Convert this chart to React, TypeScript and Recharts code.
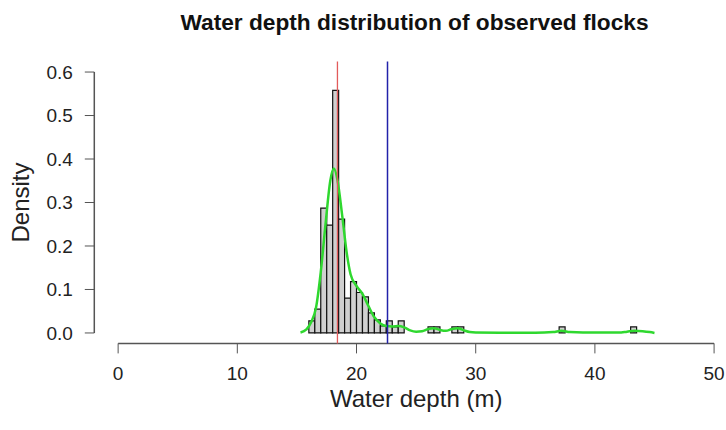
import React from 'react';
import { ComposedChart, Line, XAxis, YAxis, ReferenceArea, ReferenceLine, Label } from 'recharts';

// histogram bins (left edge, 0.5 m wide) and their densities
const binStarts = [16.0, 16.5, 17.0, 17.5, 18.0, 18.5, 19.0, 19.5, 20.0, 20.5, 21.0, 21.5, 22.0, 22.5, 23.0, 23.5, 26.0, 26.5, 28.0, 28.5, 37.0, 43.0];
const binDensity = [0.028, 0.055, 0.287, 0.248, 0.558, 0.262, 0.08, 0.118, 0.093, 0.083, 0.046, 0.03, 0.016, 0.028, 0.014, 0.028, 0.014, 0.014, 0.014, 0.014, 0.014, 0.014];
const binWidth = 0.5;

// kernel density curve
const curveDepth = [15.3, 15.8, 16.2, 16.6, 17.0, 17.4, 17.8, 18.1, 18.4, 18.8, 19.2, 19.5, 20.0, 20.5, 21.0, 21.5, 22.0, 22.5, 23.0, 23.5, 24.0, 24.5, 25.0, 25.5, 26.0, 26.5, 27.0, 27.5, 28.0, 28.5, 29.0, 29.5, 30.0, 32.0, 35.0, 36.5, 37.2, 37.9, 39.0, 42.0, 42.7, 43.3, 44.0, 44.6, 45.0];
const curveDensity = [0.001, 0.008, 0.025, 0.058, 0.14, 0.25, 0.35, 0.378, 0.352, 0.27, 0.18, 0.135, 0.108, 0.09, 0.062, 0.036, 0.022, 0.016, 0.015, 0.016, 0.013, 0.006, 0.003, 0.004, 0.009, 0.011, 0.007, 0.005, 0.009, 0.011, 0.006, 0.002, 0.001, 0.0005, 0.0005, 0.002, 0.005, 0.002, 0.001, 0.001, 0.003, 0.005, 0.004, 0.002, 0.0];

const xTicks = [0, 10, 20, 30, 40, 50];
const yTicks = [0, 0.1, 0.2, 0.3, 0.4, 0.5, 0.6];

const medianDepth = 18.4;
const meanDepth = 22.6;

const curveData = curveDepth.map((x, i) => ({ x, y: curveDensity[i] }));

const FONT = '"Liberation Sans", Arial, sans-serif';
const AXIS = '#555';

export default function App() {
  return (
    <div style={{ position: 'absolute', left: 0, top: 0, width: 726, height: 430, background: '#fff', fontFamily: FONT }}>
      <ComposedChart width={726} height={430} data={curveData} margin={{ top: 61.6, right: 0, bottom: 0, left: 0 }}>
        <XAxis
          dataKey="x"
          type="number"
          domain={[-2, 51]}
          allowDataOverflow
          ticks={xTicks}
          axisLine={false}
          tickLine={{ stroke: AXIS }}
          tickSize={10}
          tickMargin={13}
          height={86.6}
          tick={{ fontSize: 19, fill: '#222', fontFamily: FONT }}
        >
          <Label value="Water depth (m)" position="insideBottom" offset={23} dx={6} style={{ fontSize: 24, fill: '#222', fontFamily: FONT }} />
        </XAxis>
        <YAxis
          type="number"
          domain={[-0.024, 0.624]}
          allowDataOverflow
          ticks={yTicks}
          tickFormatter={(v: number) => v.toFixed(1)}
          axisLine={false}
          tickLine={{ stroke: AXIS }}
          tickSize={9.5}
          tickMargin={12}
          width={94.3}
          tick={{ fontSize: 19, fill: '#222', fontFamily: FONT }}
        >
          <Label value="Density" angle={-90} position="insideLeft" offset={20} style={{ fontSize: 24, fill: '#222', fontFamily: FONT, textAnchor: 'middle' }} />
        </YAxis>

        {binStarts.map((s, i) => (
          <ReferenceArea
            key={s}
            x1={s}
            x2={s + binWidth}
            y1={0}
            y2={binDensity[i]}
            fill="#d0d0d0"
            fillOpacity={1}
            stroke="#111"
            strokeWidth={1.2}
            ifOverflow="visible"
          />
        ))}

        <ReferenceLine segment={[{ x: 0, y: -0.024 }, { x: 50, y: -0.024 }]} stroke={AXIS} strokeWidth={1.5} ifOverflow="visible" />
        <ReferenceLine segment={[{ x: -2, y: 0 }, { x: -2, y: 0.6 }]} stroke={AXIS} strokeWidth={1.5} ifOverflow="visible" />

        <Line type="monotone" dataKey="y" stroke="#2fd82f" strokeWidth={2.5} dot={false} isAnimationActive={false} />

        <ReferenceLine x={medianDepth} stroke="#e25b5b" strokeWidth={1.3} ifOverflow="visible" />
        <ReferenceLine x={meanDepth} stroke="#2222aa" strokeWidth={1.5} ifOverflow="visible" />
      </ComposedChart>
      <svg width={726} height={430} style={{ position: 'absolute', left: 0, top: 0, pointerEvents: 'none' }}>
        <text x={414.5} y={30} textAnchor="middle" fontSize={22.7} fontWeight="bold" fill="#111" fontFamily={FONT}>
          Water depth distribution of observed flocks
        </text>
      </svg>
    </div>
  );
}
